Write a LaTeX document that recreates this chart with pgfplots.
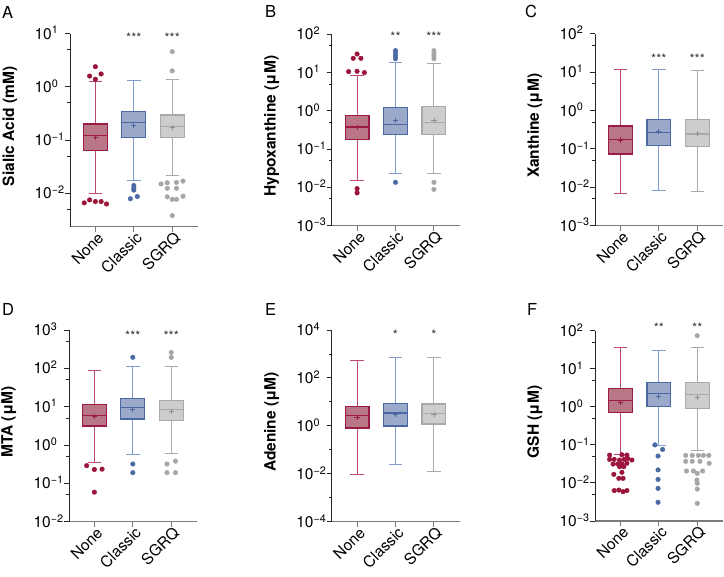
\documentclass[border=0pt]{standalone}
\usepackage{fontspec}
\setmainfont{TeX Gyre Heros}
\usepackage{pgfplots}
\pgfplotsset{compat=1.18}
\usepgfplotslibrary{statistics}

\definecolor{cN}{HTML}{9C1B45}
\definecolor{cNf}{HTML}{B97687}
\definecolor{cNw}{HTML}{BE4A74}
\definecolor{cNd}{HTML}{9B1439}
\definecolor{cC}{HTML}{4B69A0}
\definecolor{cCf}{HTML}{9BAACB}
\definecolor{cCw}{HTML}{809CCB}
\definecolor{cCd}{HTML}{4A6AA5}
\definecolor{cS}{HTML}{A9A9A9}
\definecolor{cSf}{HTML}{CDCDCD}
\definecolor{cSw}{HTML}{AAAAAA}
\definecolor{cSd}{HTML}{A6A6A6}
\definecolor{cSm}{HTML}{909090}
\definecolor{axgray}{HTML}{7A7A7A}
\colorlet{cNm}{cN}
\colorlet{cCm}{cC}

\newcommand\ticfont{\fontsize{15.5bp}{18bp}\selectfont}
\newcommand\labfont{\fontsize{15.5bp}{18bp}\selectfont\bfseries}
\newcommand\letfont{\fontsize{16.5bp}{19bp}\selectfont}
\newcommand\starfont{\fontsize{13bp}{15bp}\selectfont}

\newcommand\mylogtick{\pgfmathtruncatemacro\myex{round(\tick/ln(10))}10\textsuperscript{\makebox[12bp][l]{\ifnum\myex<0 −\number-\myex\else\myex\fi}}}

\pgfplotsset{
  every axis/.append style={
    scale only axis, width=128bp,
    xmin=-0.66, xmax=2.67,
    axis x line*=bottom, axis y line*=left,
    x axis line style={axgray, line width=1.4bp, -},
    y axis line style={black!85, line width=0.9bp, -},
    xtick={0,1,2}, xticklabels={None,Classic,SGRQ},
    xtick style={axgray, line width=1bp},
    ytick style={black!85, line width=0.9bp},
    minor tick style={black!85, line width=0.9bp},
    tick align=outside,
    major tick length=5bp, minor tick length=2.6bp,
    x tick label style={rotate=45, anchor=east, font=\ticfont, inner sep=0pt, xshift=1.5bp, yshift=-6bp},
    y tick label style={font=\ticfont, anchor=base east, yshift=-5.5bp, inner sep=0.5bp},
    yticklabel={\mylogtick},
    ylabel style={at={(axis description cs:-0.47,0.52)}, anchor=center, font=\labfont},
    clip=false,
  },
}

\tikzset{mystars/.style={anchor=base, font=\starfont, text=black!80, inner sep=0pt}}

% #1 group letter, #2 position, #3 lower whisker, #4 Q1, #5 median, #6 Q3, #7 upper whisker, #8 mean
\newcommand\bx[8]{%
  \addplot[draw=c#1, fill=c#1f, line width=1.2bp, solid,
    boxplot prepared={draw direction=y, box extend=0.62, whisker extend=0.35,
      draw position=#2, lower whisker=#3, lower quartile=#4, median=#5, upper quartile=#6, upper whisker=#7,
      every whisker/.style={draw=c#1w, line width=1bp},
      every median/.style={draw=c#1, line width=1.2bp}}] coordinates {};
  \addplot[only marks, mark=+, mark size=2.6bp, mark options={line width=0.9bp, draw=c#1m}] coordinates {(#2,#8)};
}
% outlier dots
\newcommand\outl[2]{\addplot[only marks, color=c#1d, mark=*, mark size=2.3bp, mark options={solid, draw=c#1d, fill=c#1d, line width=0.4bp}] coordinates {#2};}

\begin{document}
\begin{tikzpicture}
\path[use as bounding box] (0,0) rectangle (724bp,-577bp);

% ---------------- A
\begin{axis}[ymode=log, at={(70bp,-226.7bp)}, anchor=south west, height=193bp,
  ymin=0.002355, ymax=10, ytick={0.01,0.1,1,10}, minor ytick={0.005,0.05,0.5,5},
  ylabel={Sialic Acid (mM)}]
\bx{N}{0}{0.01}{0.063}{0.123}{0.20}{1.25}{0.113}
\bx{C}{1}{0.0173}{0.111}{0.216}{0.342}{1.33}{0.187}
\bx{S}{2}{0.0214}{0.111}{0.183}{0.296}{1.36}{0.171}
\outl{N}{(0,2.4) (-0.15,1.6) (0,1.39) (0.15,1.75) (-0.29,0.0066) (-0.15,0.0075) (0,0.0070) (0.15,0.0070) (0.29,0.0063)}
\outl{C}{(1,0.014) (1,0.0125) (1,0.0115) (0.91,0.0079) (1.09,0.0087)}
\outl{S}{(2,4.6) (2,2.0) (1.71,0.015) (1.87,0.0158) (2.11,0.016) (2.28,0.017) (1.87,0.0124) (2.11,0.0124) (1.87,0.0086) (2.0,0.0077) (2.11,0.0077) (2.28,0.0088) (2,0.0038)}
\node[mystars] at ({axis cs:1,1} |- {axis description cs:0,0.955}) {***};
\node[mystars] at ({axis cs:2,1} |- {axis description cs:0,0.955}) {***};
\end{axis}

% ---------------- B
\begin{axis}[ymode=log, at={(331.7bp,-225.7bp)}, anchor=south west, height=191.4bp,
  ymin=0.001, ymax=100, ytick={0.001,0.01,0.1,1,10,100}, minor ytick={0.005,0.05,0.5,5,50},
  ylabel={Hypoxanthine (μM)}]
\bx{N}{0}{0.0156}{0.18}{0.378}{0.75}{8.5}{0.364}
\bx{C}{1}{0.0233}{0.244}{0.445}{1.24}{18.2}{0.555}
\bx{S}{2}{0.0229}{0.244}{0.5}{1.29}{17.5}{0.555}
\outl{N}{(-0.22,10.6) (0,10.8) (0.19,10.0) (-0.1,23.6) (0,30.6) (0.1,23.6) (0,0.0093) (0,0.0072)}
\outl{C}{(1,37.4) (1,31.9) (1,27.2) (1,23.1) (1,0.0136)}
\outl{S}{(2,37.4) (2,31.9) (2,27.2) (2,23.1) (2,0.0136) (2,0.0089)}
\node[mystars] at ({axis cs:1,1} |- {axis description cs:0,0.961}) {**};
\node[mystars] at ({axis cs:2,1} |- {axis description cs:0,0.961}) {***};
\end{axis}

% ---------------- C
\begin{axis}[ymode=log, at={(595bp,-225.7bp)}, anchor=south west, height=192bp,
  ymin=0.001, ymax=100, ytick={0.001,0.01,0.1,1,10,100}, minor ytick={0.005,0.05,0.5,5,50},
  ylabel={Xanthine (μM)}]
\bx{N}{0}{0.00695}{0.0735}{0.177}{0.394}{11.5}{0.17}
\bx{C}{1}{0.0085}{0.124}{0.264}{0.587}{11.5}{0.28}
\bx{S}{2}{0.0077}{0.116}{0.244}{0.587}{11.3}{0.25}
\node[mystars] at ({axis cs:1,1} |- {axis description cs:0,0.845}) {***};
\node[mystars] at ({axis cs:2,1} |- {axis description cs:0,0.845}) {***};
\end{axis}

% ---------------- D
\begin{axis}[ymode=log, at={(69bp,-521.7bp)}, anchor=south west, height=191.7bp,
  ymin=0.01, ymax=1000, ytick={0.01,0.1,1,10,100,1000}, minor ytick={0.05,0.5,5,50,500},
  ylabel={MTA (μM)}]
\bx{N}{0}{0.36}{3.13}{5.8}{11.3}{88.7}{5.5}
\bx{C}{1}{0.57}{4.76}{9.6}{16.2}{115}{8.5}
\bx{S}{2}{0.61}{4.3}{8.5}{14.6}{115}{7.5}
\outl{N}{(-0.2,0.29) (0,0.23) (0.2,0.235) (0,0.059)}
\outl{C}{(1,194) (1,0.32) (1,0.19)}
\outl{S}{(2,261) (2,194) (1.89,0.32) (2.11,0.38) (1.89,0.19) (2.11,0.19)}
\node[mystars] at ({axis cs:1,1} |- {axis description cs:0,0.944}) {***};
\node[mystars] at ({axis cs:2,1} |- {axis description cs:0,0.944}) {***};
\end{axis}

% ---------------- E
\begin{axis}[ymode=log, at={(331.7bp,-521.7bp)}, anchor=south west, height=191.7bp,
  ymin=0.0001, ymax=10000, ytick={0.0001,0.01,1,100,10000}, minor ytick={0.001,0.1,10,1000},
  ylabel={Adenine (μM)}]
\bx{N}{0}{0.0095}{0.81}{2.75}{6.3}{542}{2.27}
\bx{C}{1}{0.0233}{0.99}{3.44}{8.7}{700}{3.0}
\bx{S}{2}{0.0123}{1.2}{3.2}{8.2}{700}{3.0}
\node[mystars] at ({axis cs:1,1} |- {axis description cs:0,0.948}) {*};
\node[mystars] at ({axis cs:2,1} |- {axis description cs:0,0.948}) {*};
\end{axis}

% ---------------- F
\begin{axis}[ymode=log, at={(595bp,-521bp)}, anchor=south west, height=190.3bp,
  ymin=0.001, ymax=100, ytick={0.001,0.01,0.1,1,10,100}, minor ytick={0.005,0.05,0.5,5,50},
  ylabel={GSH (μM)}]
\bx{N}{0}{0.0575}{0.70}{1.48}{3.05}{36.5}{1.31}
\bx{C}{1}{0.097}{1.01}{2.21}{4.3}{30.4}{1.85}
\bx{S}{2}{0.073}{0.89}{2.08}{4.3}{36.5}{1.8}
\outl{N}{
 (-0.28,0.054) (0.04,0.055) (0.17,0.054)
 (-0.28,0.0417) (-0.16,0.0417) (-0.02,0.040) (0.10,0.0417) (0.19,0.044) (0.30,0.040)
 (-0.19,0.0314) (-0.07,0.0314) (0.04,0.0314) (0.17,0.033)
 (-0.02,0.0267) (0.09,0.0267)
 (-0.17,0.0168) (0.04,0.019)
 (-0.04,0.0132) (0.07,0.0132)
 (-0.16,0.0063) (-0.04,0.0065) (0.07,0.0059) (0.17,0.0063)}
\outl{C}{(0.9,0.1) (1.1,0.076) (0.98,0.051) (0.98,0.022) (0.98,0.0124) (0.98,0.0072) (0.98,0.0031)}
\outl{S}{(2,74)
 (1.70,0.053) (1.87,0.053) (2.03,0.053) (2.16,0.053) (2.30,0.053)
 (1.70,0.037) (1.87,0.037) (2.07,0.037) (2.31,0.0327)
 (1.72,0.0206) (1.9,0.0206) (2.14,0.0206) (2.0,0.0179)
 (1.99,0.0119) (2.0,0.0098) (2.0,0.0069) (2.0,0.0029)}
\node[mystars] at ({axis cs:1,1} |- {axis description cs:0,0.991}) {**};
\node[mystars] at ({axis cs:2,1} |- {axis description cs:0,0.991}) {**};
\end{axis}

% panel letters
\node[anchor=base west, inner sep=0pt, font=\letfont] at (2bp,-18bp) {A};
\node[anchor=base west, inner sep=0pt, font=\letfont] at (265bp,-17bp) {B};
\node[anchor=base west, inner sep=0pt, font=\letfont] at (525bp,-17bp) {C};
\node[anchor=base west, inner sep=0pt, font=\letfont] at (2bp,-315bp) {D};
\node[anchor=base west, inner sep=0pt, font=\letfont] at (265bp,-315bp) {E};
\node[anchor=base west, inner sep=0pt, font=\letfont] at (527bp,-315bp) {F};
\end{tikzpicture}
\end{document}
